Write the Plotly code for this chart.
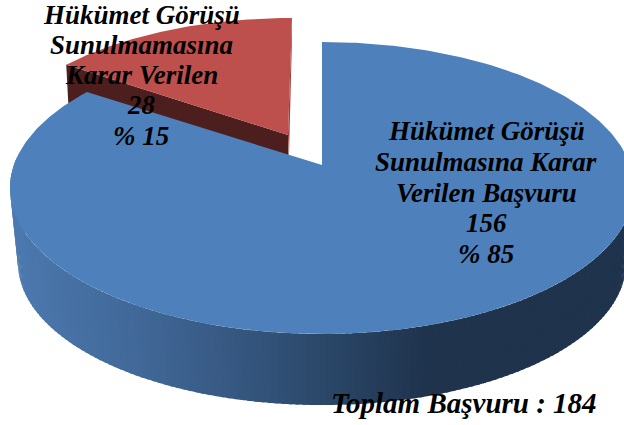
import math
import plotly.graph_objects as go

# data
categories = ["Hükümet Görüşü Sunulmasına Karar Verilen Başvuru", "Hükümet Görüşü Sunulmamasına Karar Verilen"]
values = [156, 28]
percents = [85, 15]
total_label = "Toplam Başvuru : 184"

# projection of the 3-D pie onto the page (pixels)
K = 0.44
BLUE_TOP = dict(cx=322, cy=188, rx=312, ry=146, ax=322, ay=165, lean=0.0)
BLUE_BOT = dict(cx=322, cy=263, rx=304, ry=142)
RED_TOP = dict(cx=292, cy=161, rx=305, ry=143, ax=288, ay=135, lean=0.015)
RED_DROP = 38
TOP_BLUE, TOP_RED = "#4e80bb", "#bd4f4c"
WALL_RED, EDGE_RED = "#4c1f1e", "#9a3f3c"
GRADIENT = [(11, (76, 121, 175)), (160, (63, 101, 148)), (320, (44, 73, 107)), (430, (31, 51, 77)), (640, (31, 51, 77))]


def ray_hit(e, phi):
    dx, dy = math.sin(phi) + e["lean"], -K * math.cos(phi)
    ox, oy = (e["ax"] - e["cx"]) / e["rx"], (e["ay"] - e["cy"]) / e["ry"]
    ux, uy = dx / e["rx"], dy / e["ry"]
    a, b, c = ux**2 + uy**2, 2 * (ox * ux + oy * uy), ox**2 + oy**2 - 1
    t = (-b + math.sqrt(b * b - 4 * a * c)) / (2 * a)
    return e["ax"] + t * dx, e["ay"] + t * dy


def param(e, p):
    return math.atan2((p[0] - e["cx"]) / e["rx"], -(p[1] - e["cy"]) / e["ry"])


def sector(e, phi0, phi1, n=160):
    """Points of the ellipse arc clockwise from ray phi0 to ray phi1."""
    t0, t1 = param(e, ray_hit(e, phi0)), param(e, ray_hit(e, phi1))
    while t1 <= t0:
        t1 += 2 * math.pi
    pts = []
    for i in range(n + 1):
        t = t0 + (t1 - t0) * i / n
        pts.append((e["cx"] + e["rx"] * math.sin(t), e["cy"] - e["ry"] * math.cos(t)))
    return pts


def grad(x):
    for (x0, c0), (x1, c1) in zip(GRADIENT, GRADIENT[1:]):
        if x <= x1:
            f = max(0, (x - x0) / (x1 - x0))
            return "rgb(%d,%d,%d)" % tuple(round(a + (b - a) * f) for a, b in zip(c0, c1))
    return "rgb(31,51,77)"


def poly(pts, color, line=0):
    xs = [p[0] for p in pts] + [pts[0][0]]
    ys = [p[1] for p in pts] + [pts[0][1]]
    return go.Scatter(x=xs, y=ys, mode="lines", fill="toself", fillcolor=color,
                      line=dict(color=color, width=line), hoverinfo="skip", showlegend=False)


total = sum(values)
split = -2 * math.pi * values[1] / total  # boundary between slices, clockwise from 12 o'clock

fig = go.Figure()

# red slice: walls then top
rp = sector(RED_TOP, split, 0)
r_apex = (RED_TOP["ax"], RED_TOP["ay"])
fig.add_trace(poly([rp[0], r_apex, (r_apex[0] + 1, r_apex[1] + RED_DROP), (rp[0][0] + 2, rp[0][1] + RED_DROP)], WALL_RED))
fig.add_trace(poly([rp[-1], (rp[-1][0], rp[-1][1] + 20), (r_apex[0] + 1, r_apex[1] + 20), r_apex], EDGE_RED))
fig.add_trace(poly(rp + [r_apex], TOP_RED))

# blue slice: curved front wall then top
N = 150
for i in range(N):
    t0 = math.radians(84 + (282 - 84) * i / N)
    t1 = math.radians(84 + (282 - 84) * (i + 1.5) / N)
    q = [(BLUE_TOP["cx"] + BLUE_TOP["rx"] * math.sin(t0), BLUE_TOP["cy"] - BLUE_TOP["ry"] * math.cos(t0)),
         (BLUE_TOP["cx"] + BLUE_TOP["rx"] * math.sin(t1), BLUE_TOP["cy"] - BLUE_TOP["ry"] * math.cos(t1)),
         (BLUE_BOT["cx"] + BLUE_BOT["rx"] * math.sin(t1), BLUE_BOT["cy"] - BLUE_BOT["ry"] * math.cos(t1)),
         (BLUE_BOT["cx"] + BLUE_BOT["rx"] * math.sin(t0), BLUE_BOT["cy"] - BLUE_BOT["ry"] * math.cos(t0))]
    fig.add_trace(poly(q, grad(q[0][0])))
bp = sector(BLUE_TOP, 0, split, n=400)
fig.add_trace(poly(bp + [(BLUE_TOP["ax"], BLUE_TOP["ay"])], TOP_BLUE))

red_lines = [("Hükümet Görüşü", 15), ("Sunulmamasına", 45), ("Karar Verilen", 75),
             (str(values[1]), 105), ("% " + str(percents[1]), 136)]
blue_lines = [("Hükümet Görüşü", 131), ("Sunulmasına Karar", 162), ("Verilen Başvuru", 193),
              (str(values[0]), 223), ("% " + str(percents[0]), 254)]
notes = [(t, 141, y, 27) for t, y in red_lines] + [(t, 486, y, 27) for t, y in blue_lines] + [(total_label, 464, 403, 29)]
for text, x, y, size in notes:
    fig.add_annotation(x=x, y=y, xref="x", yref="y", text="<b><i>%s</i></b>" % text, showarrow=False,
                       xanchor="center", yanchor="middle",
                       font=dict(family="Liberation Serif", size=size, color="#000000"))

fig.update_layout(width=624, height=425, margin=dict(l=0, r=0, t=0, b=0),
                  paper_bgcolor="white", plot_bgcolor="white", showlegend=False,
                  xaxis=dict(range=[0, 624], visible=False, fixedrange=True),
                  yaxis=dict(range=[425, 0], visible=False, fixedrange=True))
fig.write_html("out.html", config=dict(displayModeBar=False),
               post_script="document.body.style.margin='0';document.documentElement.style.overflow='hidden';")
